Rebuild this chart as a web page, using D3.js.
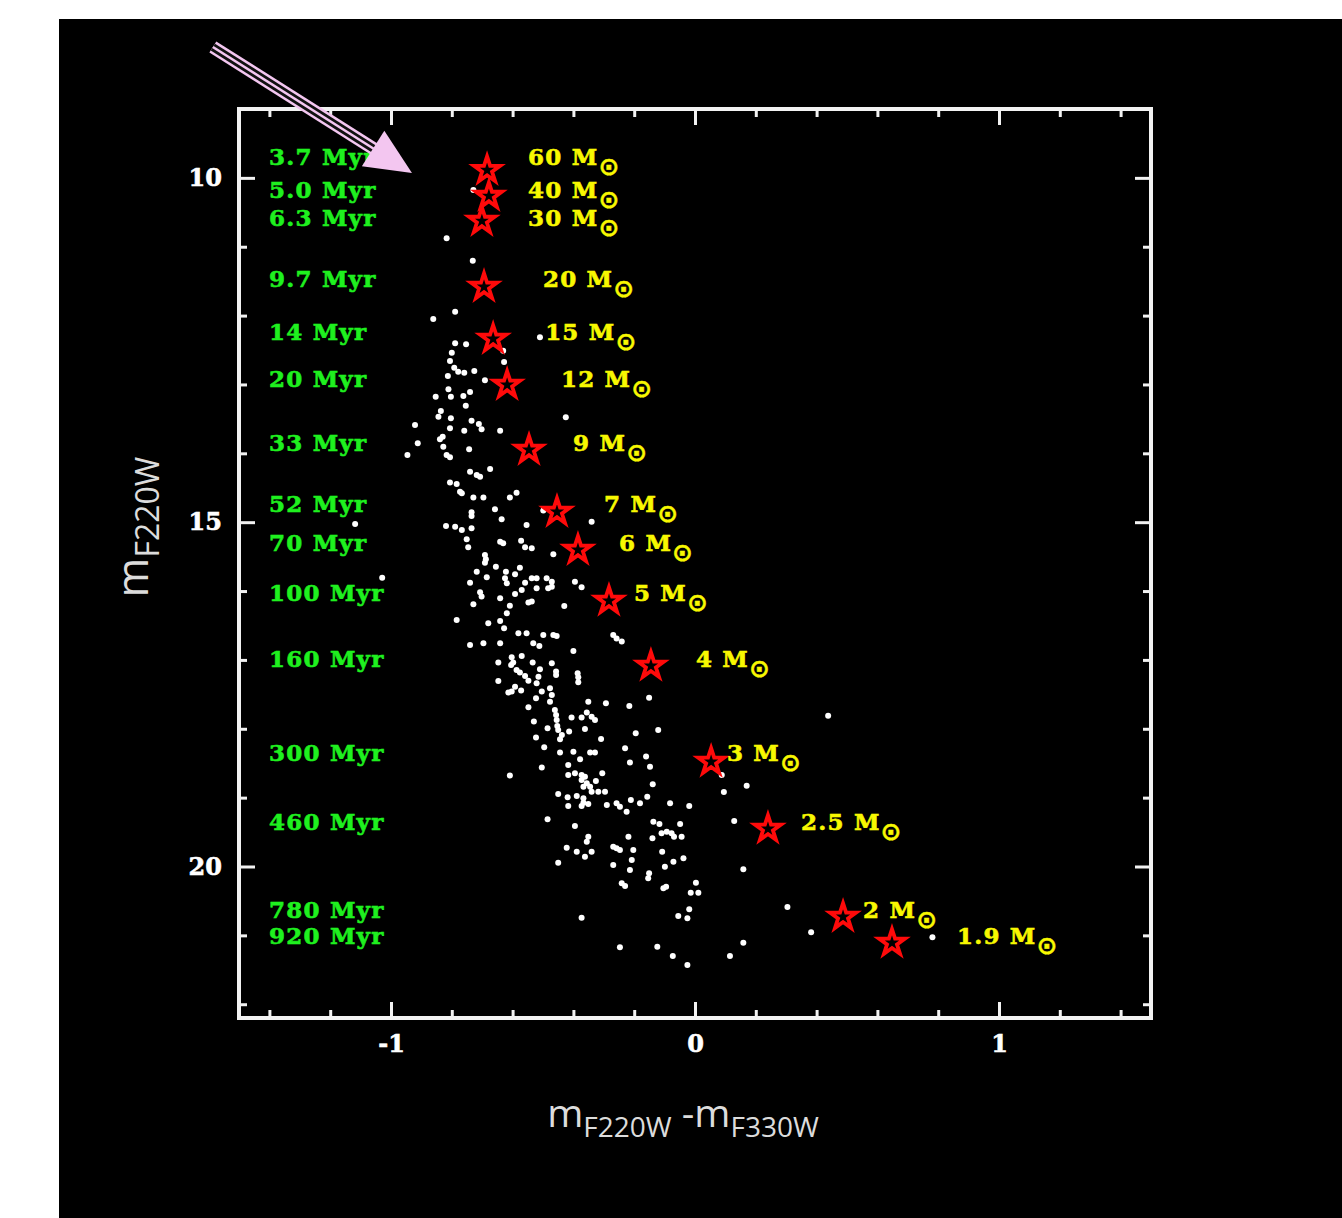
<!DOCTYPE html>
<html>
<head>
<meta charset="utf-8">
<title>cluster CMD</title>
<script src="https://d3js.org/d3.v7.min.js"></script>
<style>
  body { margin: 0; background: #fff; }
</style>
</head>
<body>
<svg width="1342" height="1218"></svg>
<script>
// cluster members: [m220 - m330, m220]
var clusterStars = [
  [-0.729,10.176],[-0.817,10.878],[-0.731,11.203],[-0.789,11.944],[-0.861,12.050],[-0.510,12.315],
  [-0.789,12.403],[-0.753,12.417],[-0.800,12.539],[-0.631,12.510],[-0.806,12.660],[-0.628,12.674],
  [-0.792,12.757],[-0.779,12.815],[-0.759,12.829],[-0.726,12.805],[-0.813,12.877],[-0.691,12.940],
  [-0.811,13.071],[-0.740,13.110],[-0.853,13.178],[-0.803,13.178],[-0.762,13.168],[-0.754,13.309],
  [-0.836,13.386],[-0.844,13.469],[-0.803,13.492],[-0.425,13.477],[-0.735,13.526],[-0.711,13.574],
  [-0.702,13.651],[-0.921,13.589],[-0.806,13.637],[-0.759,13.672],[-0.641,13.672],[-0.830,13.759],
  [-0.839,13.797],[-0.912,13.855],[-0.828,13.904],[-0.743,13.942],[-0.817,14.025],[-0.806,14.058],
  [-0.946,14.025],[-0.674,14.228],[-0.740,14.268],[-0.718,14.315],[-0.707,14.340],[-0.806,14.425],
  [-0.784,14.446],[-0.587,14.572],[-0.773,14.557],[-0.767,14.580],[-0.609,14.643],[-0.729,14.643],
  [-0.696,14.643],[-0.499,14.832],[-0.658,14.811],[-0.735,14.855],[-0.735,14.909],[-0.636,14.957],
  [-0.340,14.992],[-0.819,15.056],[-0.789,15.066],[-0.767,15.114],[-0.735,15.089],[-0.554,15.041],
  [-0.751,15.249],[-0.746,15.365],[-0.641,15.284],[-0.631,15.307],[-0.572,15.269],[-0.559,15.365],
  [-0.537,15.380],[-0.466,15.467],[-0.691,15.477],[-0.688,15.539],[-0.691,15.589],[-0.718,15.719],
  [-0.685,15.800],[-0.655,15.646],[-0.622,15.719],[-0.625,15.815],[-0.619,15.888],[-0.576,15.660],
  [-0.592,15.756],[-0.537,15.815],[-0.521,15.815],[-0.488,15.815],[-0.471,15.864],[-0.395,15.864],
  [-0.373,15.945],[-0.740,15.878],[-0.559,15.878],[-0.570,15.985],[-0.521,15.960],[-0.483,15.960],
  [-0.471,15.937],[-0.707,16.017],[-0.702,16.081],[-0.592,16.042],[-0.641,16.104],[-0.729,16.191],
  [-0.548,16.168],[-0.537,16.153],[-0.609,16.212],[-0.619,16.322],[-0.430,16.217],[-0.784,16.420],
  [-0.680,16.468],[-0.641,16.435],[-0.628,16.541],[-0.581,16.614],[-0.554,16.614],[-0.499,16.638],
  [-0.466,16.638],[-0.269,16.638],[-0.241,16.734],[-0.740,16.784],[-0.696,16.758],[-0.641,16.758],
  [-0.532,16.758],[-0.455,16.653],[-0.258,16.690],[-0.512,16.797],[-0.400,16.871],[-0.647,17.039],
  [-0.603,16.961],[-0.570,16.943],[-0.598,17.039],[-0.605,17.074],[-0.534,17.039],[-0.471,17.048],
  [-0.587,17.146],[-0.576,17.184],[-0.559,17.233],[-0.548,17.301],[-0.510,17.136],[-0.515,17.243],
  [-0.521,17.339],[-0.457,17.170],[-0.457,17.219],[-0.386,17.194],[-0.384,17.253],[-0.384,17.325],
  [-0.647,17.306],[-0.592,17.388],[-0.572,17.446],[-0.614,17.475],[-0.603,17.460],[-0.504,17.460],
  [-0.477,17.411],[-0.471,17.509],[-0.477,17.606],[-0.523,17.557],[-0.548,17.687],[-0.351,17.606],
  [-0.293,17.629],[-0.216,17.669],[-0.151,17.548],[-0.461,17.727],[-0.457,17.800],[-0.455,17.873],
  [-0.453,17.960],[-0.450,18.018],[-0.438,18.091],[-0.444,18.153],[-0.356,17.765],[-0.340,17.824],
  [-0.329,17.872],[-0.373,17.838],[-0.406,17.838],[-0.530,17.896],[-0.485,17.992],[-0.362,18.002],
  [-0.414,18.041],[-0.195,18.065],[-0.121,18.018],[-0.523,18.128],[-0.309,18.149],[-0.496,18.268],
  [-0.444,18.346],[-0.400,18.332],[-0.378,18.442],[-0.345,18.346],[-0.329,18.346],[-0.230,18.283],
  [-0.161,18.404],[-0.214,18.491],[-0.148,18.550],[-0.504,18.564],[-0.417,18.526],[-0.417,18.671],
  [-0.395,18.647],[-0.373,18.671],[-0.362,18.695],[-0.373,18.744],[-0.367,18.841],[-0.356,18.791],
  [-0.345,18.841],[-0.305,18.647],[-0.326,18.759],[-0.340,18.914],[-0.318,18.914],[-0.296,18.914],
  [-0.609,18.680],[-0.139,18.805],[-0.450,18.946],[-0.419,18.994],[-0.389,18.976],[-0.367,19.009],
  [-0.367,19.073],[-0.351,19.093],[-0.417,19.122],[-0.373,19.122],[-0.290,19.107],[-0.258,19.083],
  [-0.247,19.131],[-0.225,19.204],[-0.211,19.034],[-0.181,19.083],[-0.157,18.986],[-0.082,19.083],
  [-0.019,19.122],[-0.485,19.314],[-0.395,19.412],[-0.137,19.349],[-0.117,19.383],[-0.110,19.518],
  [-0.093,19.494],[-0.077,19.518],[-0.069,19.567],[-0.044,19.567],[-0.049,19.383],[-0.219,19.567],
  [-0.140,19.590],[-0.351,19.567],[-0.356,19.639],[-0.362,19.857],[-0.340,19.785],[-0.422,19.726],
  [-0.389,19.785],[-0.450,19.944],[-0.269,19.712],[-0.258,19.736],[-0.247,19.761],[-0.203,19.761],
  [-0.208,19.906],[-0.108,19.785],[-0.071,19.930],[-0.038,19.881],[-0.269,19.978],[-0.214,20.051],
  [-0.099,20.003],[-0.151,20.099],[-0.154,20.172],[-0.241,20.244],[-0.230,20.283],[-0.104,20.317],
  [-0.095,20.293],[0.003,20.235],[-0.014,20.380],[0.011,20.380],[-0.019,20.621],[-0.055,20.719],
  [-0.025,20.752],[-0.373,20.743],[-0.247,21.173],[-0.124,21.164],[-0.073,21.300],[-0.025,21.431],
  [0.115,21.300],[0.159,21.106],[0.088,18.671],[0.095,18.918],[0.170,18.826],[0.129,19.339],
  [0.159,20.040],[0.438,17.810],[0.304,20.588],[0.382,20.956],[0.781,21.028],[-1.118,15.026],
  [-1.029,15.806]
];

// turn-off points of the isochrones (red stars)
var turnoffColor = [-0.684,-0.678,-0.701,-0.694,-0.664,-0.618,-0.546,-0.454,-0.385,-0.283,-0.145,0.053,0.240,0.487,0.648];
var turnoffMag   = [9.886,10.263,10.626,11.584,12.339,13.007,13.950,14.850,15.402,16.142,17.086,18.480,19.453,20.731,21.108];

var ages   = ["3.7 Myr","5.0 Myr","6.3 Myr","9.7 Myr","14 Myr","20 Myr","33 Myr","52 Myr","70 Myr","100 Myr","160 Myr","300 Myr","460 Myr","780 Myr","920 Myr"];
var masses = ["60","40","30","20","15","12","9","7","6","5","4","3","2.5","2","1.9"];
var labelMag  = [9.697,10.176,10.583,11.469,12.238,12.921,13.850,14.736,15.303,16.029,16.987,18.352,19.354,20.625,21.010];
var massLabelColor = [-0.549,-0.549,-0.549,-0.500,-0.493,-0.441,-0.401,-0.299,-0.250,-0.201,0.003,0.105,0.349,0.553,0.862];
var ageLabelColor = -1.401;

var xMajor = [-1, 0, 1];
var xTickLabels = ["-1", "0", "1"];
var xMinor = [-1.4,-1.2,-0.8,-0.6,-0.4,-0.2,0.2,0.4,0.6,0.8,1.2,1.4];
var yMajor = [10, 15, 20];
var yTickLabels = ["10", "15", "20"];
var yMinor = [11,12,13,14,16,17,18,19,21,22];

// arrow: tail and tip in data units
var arrowTail = [-1.586, 8.100];
var arrowTip  = [-0.931, 9.929];

var svg = d3.select("svg");
svg.append("rect")
  .attr("x", 59).attr("y", 19)
  .attr("width", 1342 - 59).attr("height", 1218 - 19)
  .attr("fill", "#000");

var x = d3.scaleLinear().domain([-1.5, 1.5]).range([239, 1151]);
var y = d3.scaleLinear().domain([9, 22.2]).range([109, 1018]);

var frameColor = "#f2f2f2";
var labelFont = "'DejaVu Serif', serif";

function drawAxis(axis, tx, ty) {
  var g = svg.append("g").attr("transform", "translate(" + tx + "," + ty + ")").call(axis);
  g.select(".domain").remove();
  g.selectAll(".tick line").attr("stroke", frameColor).attr("stroke-width", 3);
  g.selectAll(".tick text")
    .attr("fill", "#fff")
    .attr("stroke", "#fff")
    .attr("stroke-width", 0.6)
    .style("font-family", labelFont)
    .style("font-weight", "bold")
    .style("font-size", "24px");
  return g;
}

// bottom
drawAxis(d3.axisBottom(x).tickValues(xMajor).tickSize(-16).tickPadding(17)
  .tickFormat(function(d, i) { return xTickLabels[i]; }), 0, y.range()[1]);
drawAxis(d3.axisBottom(x).tickValues(xMinor).tickSize(-8).tickFormat(""), 0, y.range()[1]);
// top
drawAxis(d3.axisTop(x).tickValues(xMajor).tickSize(-16).tickFormat(""), 0, y.range()[0]);
drawAxis(d3.axisTop(x).tickValues(xMinor).tickSize(-8).tickFormat(""), 0, y.range()[0]);
// left
drawAxis(d3.axisLeft(y).tickValues(yMajor).tickSize(-16).tickPadding(17)
  .tickFormat(function(d, i) { return yTickLabels[i]; }), x.range()[0], 0);
drawAxis(d3.axisLeft(y).tickValues(yMinor).tickSize(-8).tickFormat(""), x.range()[0], 0);
// right
drawAxis(d3.axisRight(y).tickValues(yMajor).tickSize(-16).tickFormat(""), x.range()[1], 0);
drawAxis(d3.axisRight(y).tickValues(yMinor).tickSize(-8).tickFormat(""), x.range()[1], 0);

// frame
svg.append("rect")
  .attr("x", x.range()[0]).attr("y", y.range()[0])
  .attr("width", x.range()[1] - x.range()[0])
  .attr("height", y.range()[1] - y.range()[0])
  .attr("fill", "none")
  .attr("stroke", frameColor)
  .attr("stroke-width", 4);

// cluster stars
svg.append("g").selectAll("circle")
  .data(clusterStars)
  .enter().append("circle")
  .attr("cx", function(d) { return x(d[0]); })
  .attr("cy", function(d) { return y(d[1]); })
  .attr("r", 3)
  .attr("fill", "#fff");

// turn-off markers
var star = d3.symbol().type(d3.symbolStar).size(210);
svg.append("g").selectAll("path")
  .data(turnoffColor)
  .enter().append("path")
  .attr("d", star)
  .attr("transform", function(d, i) { return "translate(" + x(d) + "," + y(turnoffMag[i]) + ")"; })
  .attr("fill", "none")
  .attr("stroke", "#ff0a0a")
  .attr("stroke-width", 3.8)
  .attr("stroke-linejoin", "miter");

// age labels
svg.append("g").selectAll("text")
  .data(ages)
  .enter().append("text")
  .attr("x", x(ageLabelColor))
  .attr("y", function(d, i) { return y(labelMag[i]); })
  .attr("dy", "0.36em")
  .attr("fill", "#1ff01f")
  .attr("stroke", "#1ff01f")
  .attr("stroke-width", 0.6)
  .style("font-family", labelFont)
  .style("font-weight", "bold")
  .style("font-size", "23px")
  .style("letter-spacing", "1.2px")
  .text(function(d) { return d; });

// mass labels
var ml = svg.append("g").selectAll("text")
  .data(masses)
  .enter().append("text")
  .attr("x", function(d, i) { return x(massLabelColor[i]); })
  .attr("y", function(d, i) { return y(labelMag[i]); })
  .attr("dy", "0.36em")
  .attr("fill", "#f8f800")
  .attr("stroke", "#f8f800")
  .attr("stroke-width", 0.6)
  .style("font-family", labelFont)
  .style("font-weight", "bold")
  .style("font-size", "23px")
  .style("letter-spacing", "1.2px");
ml.append("tspan").text(function(d) { return d + " M"; });
ml.append("tspan")
  .attr("dy", 10)
  .attr("dx", 0)
  .attr("stroke-width", 0.4)
  .style("font-family", "'DejaVu Sans', sans-serif")
  .style("font-weight", "bold")
  .style("font-size", "25px")
  .text("\u2299");

// arrow
var t0 = [x(arrowTail[0]), y(arrowTail[1])];
var t1 = [x(arrowTip[0]), y(arrowTip[1])];
var dx = t1[0] - t0[0], dy = t1[1] - t0[1];
var len = Math.sqrt(dx * dx + dy * dy);
var ux = dx / len, uy = dy / len;
var headLen = 46, headHalf = 21;
var base = [t1[0] - headLen * ux, t1[1] - headLen * uy];
var pink = "#f3c6f0";
var arrow = svg.append("g");
[[13, pink], [8, "#111"], [2.6, pink]].forEach(function(s) {
  arrow.append("line")
    .attr("x1", t0[0]).attr("y1", t0[1])
    .attr("x2", base[0] + 4 * ux).attr("y2", base[1] + 4 * uy)
    .attr("stroke", s[1])
    .attr("stroke-width", s[0]);
});
arrow.append("polygon")
  .attr("points", [
    [t1[0], t1[1]],
    [base[0] - headHalf * uy, base[1] + headHalf * ux],
    [base[0] + headHalf * uy, base[1] - headHalf * ux]
  ].map(function(p) { return p.join(","); }).join(" "))
  .attr("fill", pink);

// axis titles
var titleFont = "'Open Sans', sans-serif";
var xt = svg.append("text")
  .attr("x", 683).attr("y", 1127)
  .attr("text-anchor", "middle")
  .attr("fill", "#dcdcdc")
  .style("font-family", titleFont)
  .style("font-size", "39px");
xt.append("tspan").text("m");
xt.append("tspan").attr("dy", 10).style("font-size", "28px").text("F220W");
xt.append("tspan").attr("dy", -10).text(" -m");
xt.append("tspan").attr("dy", 10).style("font-size", "28px").text("F330W");

var yt = svg.append("text")
  .attr("transform", "translate(148,527) rotate(-90)")
  .attr("text-anchor", "middle")
  .attr("fill", "#dcdcdc")
  .style("font-family", titleFont)
  .style("font-size", "43px");
yt.append("tspan").text("m");
yt.append("tspan").attr("dy", 11).style("font-size", "32px").text("F220W");
</script>
</body>
</html>
